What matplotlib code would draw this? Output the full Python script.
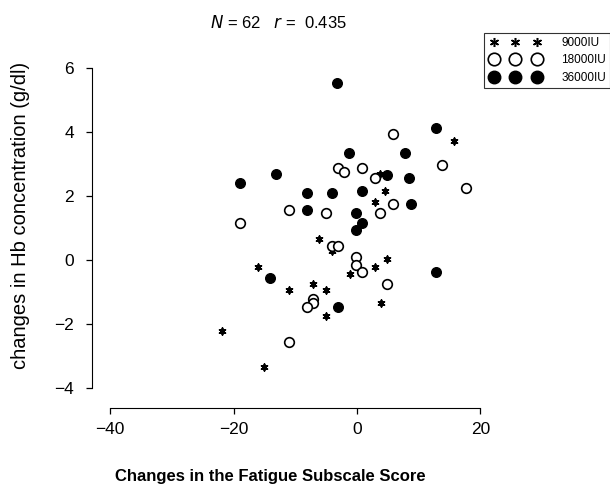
import numpy as np
import matplotlib
matplotlib.use("Agg")
import matplotlib.pyplot as plt
from matplotlib.lines import Line2D
from matplotlib.legend_handler import HandlerTuple

plt.rcParams['font.family'] = ['Liberation Sans', 'DejaVu Sans']

# 36000IU (filled circles)
x_36000 = [-3.19, 12.80, -1.25, 7.78, -13.13, 4.81, 8.48, -18.96, -8.06, -4.10,
           0.76, 8.75, -8.06, -0.16, 0.76, -0.16, 12.80, -3.13, -14.10]
y_36000 = [5.55, 4.14, 3.34, 3.34, 2.69, 2.66, 2.56, 2.40, 2.09, 2.09,
           2.17, 1.76, 1.57, 1.47, 1.17, 0.94, -0.36, -1.45, -0.55]

# 18000IU (open circles)
x_18000 = [5.79, 13.82, -3.13, -2.11, 0.76, 2.92, 17.67, -11.02, -18.96, -5.02,
           5.88, 3.73, -4.10, -3.03, -0.16, -0.16, 0.86, 4.81, -7.08, -7.08,
           -8.06, -11.02]
y_18000 = [3.94, 2.97, 2.87, 2.77, 2.87, 2.56, 2.25, 1.57, 1.17, 1.47,
           1.76, 1.47, 0.44, 0.44, 0.09, -0.15, -0.36, -0.74, -1.22, -1.35,
           -1.45, -2.55]

# 9000IU (asterisks)
x_9000 = [15.77, 4.54, 2.92, -6.11, -4.10, 4.81, 2.92, -1.13, -7.08, -11.02,
          -5.02, -5.02, 3.89, -16.00, -21.93, -15.02, 3.73]
y_9000 = [3.73, 2.17, 1.83, 0.65, 0.29, 0.04, -0.22, -0.44, -0.74, -0.93,
          -0.93, -1.74, -1.33, -0.22, -2.20, -3.35, 2.69]

xticks = [-40, -20, 0, 20]
yticks = [-4, -2, 0, 2, 4, 6]
title = r"$\it{N}$ = 62   $\it{r}$ =  0.435"

fig = plt.figure(figsize=(6.1, 4.87), dpi=100)
ax = fig.add_axes([92/610, 79/487, 408/610, 356/487])

star = (6, 2, 0)
ax.scatter(x_9000, y_9000, marker=star, s=22, color='black', linewidths=1.3, zorder=3)
ax.scatter(x_18000, y_18000, marker='o', s=48, facecolors='white',
           edgecolors='black', linewidths=1.2, zorder=3)
ax.scatter(x_36000, y_36000, marker='o', s=48, color='black', zorder=3)

ax.set_xlim(-42.95, 23.18)
ax.set_ylim(-4.62, 6.51)
ax.set_xticks(xticks)
ax.set_yticks(yticks)
ax.set_xticklabels([str(t).replace('-', '\u2212') for t in xticks])
ax.set_yticklabels([str(t).replace('-', '\u2212') for t in yticks])
ax.spines['top'].set_visible(False)
ax.spines['right'].set_visible(False)
ax.spines['left'].set_bounds(-4, 6)
ax.spines['bottom'].set_bounds(-40, 20)
ax.tick_params(direction='out', length=4, width=0.9, labelsize=12.5)
ax.tick_params(axis='y', pad=9)
ax.tick_params(axis='x', pad=6)

ax.set_xlabel("Changes in the Fatigue Subscale Score", fontsize=12,
              fontweight='bold', va='center')
ax.xaxis.set_label_coords(178/408, -69/356)
ax.set_ylabel("changes in Hb concentration (g/dl)", fontsize=14.5, va='center')
ax.yaxis.set_label_coords(-72/408, 193/356)
fig.text(278/610, 1 - 22/487, title, fontsize=12, ha='center', va='center')

h9 = tuple(Line2D([], [], marker=star, color='black', ls='none', ms=6.5, mew=1.1) for _ in range(3))
h18 = tuple(Line2D([], [], marker='o', mfc='white', mec='black', ls='none', ms=9, mew=1.2) for _ in range(3))
h36 = tuple(Line2D([], [], marker='o', color='black', ls='none', ms=9) for _ in range(3))
leg = fig.legend([h9, h18, h36], ["9000IU", "18000IU", "36000IU"],
                 handler_map={tuple: HandlerTuple(ndivide=None, pad=0.9)},
                 loc='upper left', bbox_to_anchor=(484/610, 1 - 33/487),
                 fontsize=8.5, frameon=True, fancybox=False, edgecolor='black',
                 handlelength=4.6, handletextpad=1.6, borderpad=0.35,
                 labelspacing=0.45, borderaxespad=0)
leg.get_frame().set_linewidth(0.8)

fig.savefig("out.png", dpi=100)
